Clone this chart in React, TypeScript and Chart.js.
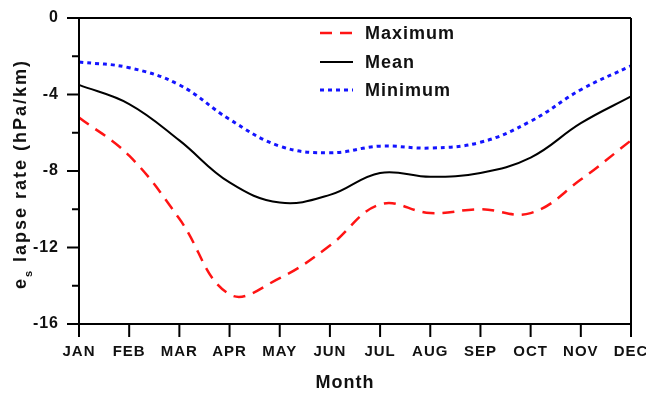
import { useEffect, useRef } from 'react';
import { Chart, registerables } from 'chart.js';

Chart.register(...registerables);

const months = ['JAN', 'FEB', 'MAR', 'APR', 'MAY', 'JUN', 'JUL', 'AUG', 'SEP', 'OCT', 'NOV', 'DEC'];
const maximum = [-5.2, -7.2, -10.5, -14.45, -13.6, -11.9, -9.75, -10.2, -10.0, -10.2, -8.45, -6.4];
const mean = [-3.5, -4.5, -6.4, -8.6, -9.65, -9.25, -8.1, -8.3, -8.1, -7.3, -5.5, -4.1];
const minimum = [-2.3, -2.6, -3.5, -5.3, -6.7, -7.05, -6.7, -6.8, -6.5, -5.4, -3.75, -2.5];
const yMajorTicks = [0, -4, -8, -12, -16];
const yMinorTicks = [-2, -6, -10, -14];
const seriesNames = ['Maximum', 'Mean', 'Minimum'];
const xTitle = 'Month';

const FONT = '"Liberation Sans", Arial, Helvetica, sans-serif';

// Frame, tick marks, axis titles and the legend are painted here.
const decorations = {
  id: 'decorations',
  beforeDraw(chart: any) {
    chart.ctx.letterSpacing = '1px';
  },
  afterDraw(chart: any) {
    const ctx = chart.ctx as CanvasRenderingContext2D;
    const { left, right, top, bottom } = chart.chartArea;
    const xs = chart.scales.x;
    const ys = chart.scales.y;
    ctx.save();
    ctx.strokeStyle = '#000';
    ctx.lineWidth = 2;
    ctx.setLineDash([]);
    ctx.beginPath();
    ctx.moveTo(left, top);
    ctx.lineTo(left, bottom + 13);
    ctx.moveTo(right, top);
    ctx.lineTo(right, bottom + 13);
    ctx.moveTo(left - 12, bottom);
    ctx.lineTo(right, bottom);
    ctx.moveTo(left - 12, top);
    ctx.lineTo(right, top);
    months.forEach((_, i) => {
      const x = xs.getPixelForValue(i);
      ctx.moveTo(x, bottom);
      ctx.lineTo(x, bottom + 13);
    });
    yMajorTicks.forEach((v) => {
      const y = ys.getPixelForValue(v);
      ctx.moveTo(left - 12, y);
      ctx.lineTo(left, y);
    });
    yMinorTicks.forEach((v) => {
      const y = ys.getPixelForValue(v);
      ctx.moveTo(left - 7, y);
      ctx.lineTo(left, y);
    });
    ctx.stroke();

    ctx.fillStyle = '#111';

    // x-axis title
    (ctx as any).letterSpacing = '1px';
    ctx.font = `bold 18px ${FONT}`;
    ctx.textAlign = 'center';
    ctx.textBaseline = 'alphabetic';
    ctx.fillText(xTitle, 345, 388);

    // y-axis title with subscript
    ctx.save();
    ctx.translate(26, 174);
    ctx.rotate(-Math.PI / 2);
    (ctx as any).letterSpacing = '2px';
    ctx.font = `bold 18px ${FONT}`;
    const head = 'e';
    const tail = ' lapse rate (hPa/km)';
    const wHead = ctx.measureText(head).width;
    const wTail = ctx.measureText(tail).width;
    ctx.font = `bold 11px ${FONT}`;
    const wSub = ctx.measureText('s').width;
    const total = wHead + wSub + wTail;
    let x0 = -total / 2;
    ctx.textAlign = 'left';
    ctx.font = `bold 18px ${FONT}`;
    ctx.fillText(head, x0, 0);
    x0 += wHead;
    ctx.font = `bold 11px ${FONT}`;
    ctx.fillText('s', x0, 6);
    x0 += wSub;
    ctx.font = `bold 18px ${FONT}`;
    ctx.fillText(tail, x0, 0);
    ctx.restore();

    // legend
    const rows = [33, 62, 90];
    chart.data.datasets.forEach((ds: any, i: number) => {
      const y = rows[i];
      ctx.save();
      ctx.strokeStyle = ds.borderColor;
      ctx.lineWidth = ds.borderWidth;
      ctx.setLineDash(ds.borderDash || []);
      ctx.beginPath();
      ctx.moveTo(320, y);
      ctx.lineTo(353, y);
      ctx.stroke();
      ctx.restore();
      (ctx as any).letterSpacing = '1px';
      ctx.font = `bold 18px ${FONT}`;
      ctx.textAlign = 'left';
      ctx.textBaseline = 'middle';
      ctx.fillStyle = '#111';
      ctx.fillText(seriesNames[i], 365, y + 1);
    });
    ctx.restore();
  },
};

export default function App() {
  const ref = useRef<HTMLCanvasElement | null>(null);

  useEffect(() => {
    document.body.style.margin = '0';
    const canvas = ref.current;
    if (!canvas) return;
    const chart = new Chart(canvas, {
      type: 'line',
      data: {
        labels: months,
        datasets: [
          {
            label: seriesNames[0],
            data: maximum,
            borderColor: '#ff1414',
            borderWidth: 2.5,
            borderDash: [12, 8],
            pointRadius: 0,
            tension: 0.4,
            fill: false,
          },
          {
            label: seriesNames[1],
            data: mean,
            borderColor: '#000000',
            borderWidth: 2,
            pointRadius: 0,
            tension: 0.4,
            fill: false,
          },
          {
            label: seriesNames[2],
            data: minimum,
            borderColor: '#1414ff',
            borderWidth: 3,
            borderDash: [4, 4],
            pointRadius: 0,
            tension: 0.4,
            fill: false,
          },
        ],
      },
      options: {
        responsive: false,
        animation: false,
        devicePixelRatio: 1,
        layout: { padding: { top: 18, right: 15, left: 0, bottom: 0 } },
        plugins: {
          legend: { display: false },
          tooltip: { enabled: false },
        },
        scales: {
          x: {
            type: 'category',
            offset: false,
            grid: { display: false, drawTicks: false },
            border: { display: false },
            ticks: {
              autoSkip: false,
              maxRotation: 0,
              minRotation: 0,
              padding: 19,
              color: '#111',
              font: { family: FONT, size: 15, weight: 'bold' },
            },
            afterFit(scale: any) {
              scale.height = 70;
              scale.paddingLeft = 0;
              scale.paddingRight = 0;
            },
          },
          y: {
            min: -16,
            max: 0,
            grid: { display: false, drawTicks: false },
            border: { display: false },
            afterBuildTicks(scale: any) {
              scale.ticks = yMajorTicks.map((v) => ({ value: v }));
            },
            ticks: {
              padding: 20,
              color: '#111',
              font: { family: FONT, size: 16, weight: 'bold' },
            },
            afterFit(scale: any) {
              scale.width = 79;
              scale.paddingTop = 0;
              scale.paddingBottom = 0;
            },
          },
        },
      },
      plugins: [decorations],
    } as any);
    return () => chart.destroy();
  }, []);

  return (
    <div style={{ width: 646, height: 394, position: 'relative' }}>
      <canvas ref={ref} width={646} height={394} />
    </div>
  );
}
